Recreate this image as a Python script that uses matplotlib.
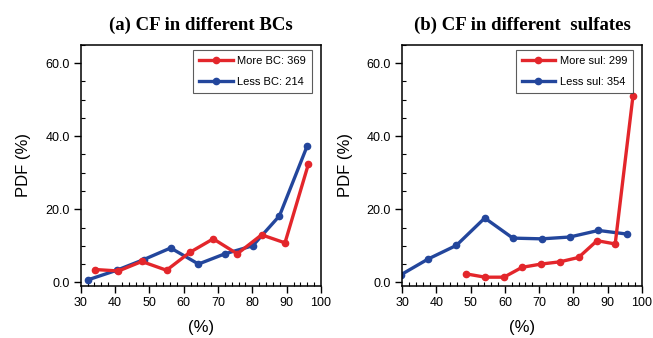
import matplotlib.pyplot as plt
from matplotlib.ticker import MultipleLocator, FormatStrFormatter

# (a) CF in different BCs
bc_more_x = [34.2, 41.0, 47.8, 55.0, 61.8, 68.6, 75.6, 82.7, 89.5, 96.3]
bc_more_y = [3.5, 3.1, 5.7, 3.3, 8.2, 11.9, 7.8, 13.0, 10.8, 32.3]
bc_less_x = [32.2, 40.5, 48.3, 56.2, 64.3, 72.0, 80.1, 87.9, 96.0]
bc_less_y = [0.7, 3.3, 6.2, 9.4, 5.0, 7.8, 10.0, 18.2, 37.4]

# (b) CF in different sulfates
sul_more_x = [48.7, 54.2, 59.7, 65.0, 70.6, 76.0, 81.5, 86.9, 92.2, 97.4]
sul_more_y = [2.3, 1.4, 1.4, 4.1, 5.0, 5.6, 6.8, 11.4, 10.5, 51.1]
sul_less_x = [29.5, 37.6, 45.8, 54.1, 62.3, 70.8, 78.9, 87.3, 95.7]
sul_less_y = [2.0, 6.4, 10.1, 17.6, 12.1, 11.9, 12.4, 14.2, 13.2]

titles = ['(a) CF in different BCs', '(b) CF in different  sulfates']
labels = [('More BC: 369', 'Less BC: 214'), ('More sul: 299', 'Less sul: 354')]

RED = '#e3262b'
BLUE = '#23469c'

plt.rcParams['font.family'] = ['Liberation Sans', 'DejaVu Sans']

fig = plt.figure(figsize=(6.53, 3.38), dpi=100)
panels = [
    (fig.add_axes([0.1236, 0.154, 0.368, 0.713]), bc_more_x, bc_more_y, bc_less_x, bc_less_y),
    (fig.add_axes([0.616, 0.154, 0.367, 0.713]), sul_more_x, sul_more_y, sul_less_x, sul_less_y),
]

for i, (ax, mx, my, lx, ly) in enumerate(panels):
    ax.plot(mx, my, color=RED, lw=2.4, marker='o', ms=4.5, label=labels[i][0], zorder=3)
    ax.plot(lx, ly, color=BLUE, lw=2.4, marker='o', ms=4.5, label=labels[i][1], zorder=2)
    ax.set_xlim(30, 100)
    ax.set_ylim(-1, 65)
    ax.xaxis.set_major_locator(MultipleLocator(10))
    ax.xaxis.set_minor_locator(MultipleLocator(2))
    ax.yaxis.set_major_locator(MultipleLocator(20))
    ax.yaxis.set_minor_locator(MultipleLocator(5))
    ax.yaxis.set_major_formatter(FormatStrFormatter('%.1f'))
    ax.tick_params(which='major', direction='out', length=5, width=1, labelsize=9, pad=3)
    ax.tick_params(which='minor', direction='in', length=3, width=0.8)
    for s in ax.spines.values():
        s.set_linewidth(1.1)
    ax.set_xlabel('(%)', fontsize=12, labelpad=8)
    ax.set_ylabel('PDF (%)', fontsize=12, labelpad=10)
    ax.set_title(titles[i], fontsize=13.5, fontweight='bold', family='Liberation Serif', pad=11)
    leg = ax.legend(loc='upper right', fontsize=8, frameon=True, fancybox=False,
                    edgecolor='#333333', handlelength=3.0, handletextpad=0.4,
                    borderpad=0.55, labelspacing=1.0, borderaxespad=0,
                    bbox_to_anchor=(0.963, 0.98))
    leg.get_frame().set_linewidth(0.8)

fig.savefig('out.png', dpi=100)
